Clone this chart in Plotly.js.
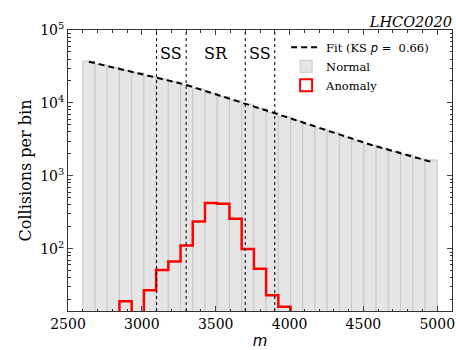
<!DOCTYPE html>
<html><head><meta charset="utf-8">
<script src="https://cdn.plot.ly/plotly-3.0.1.min.js"></script>
<style>html,body{margin:0;padding:0;background:#fff}</style>
</head><body><div id="chart" style="width:456px;height:350px"></div>
<script>
// histogram binning
const binLow = 2600, binHigh = 5000, nBins = 29;
// fit evaluated at bin centres
const fitValues = [36800, 33650, 30800, 28200, 25800, 23600, 21500, 19400, 17600, 15600,
  13800, 12300, 10900, 9640, 8470, 7430, 6530, 5750, 5060, 4450,
  3910, 3440, 3030, 2690, 2410, 2160, 1940, 1740, 1555];
// "Normal" background counts per bin
const normalCounts = [37500, 33400, 30500, 28000, 25900, 23300, 21300, 19500, 17300, 15500,
  13700, 12200, 10800, 9600, 8400, 7350, 6500, 5700, 5000, 4400,
  3900, 3400, 3000, 2650, 2380, 2150, 1950, 1720, 1650];
// "Anomaly" signal counts per bin
const anomalyCounts = [0, 0, 0, 19, 0, 27, 51, 67, 111, 237,
  423, 413, 258, 99, 53, 23, 16, 0, 0, 0,
  0, 0, 0, 0, 0, 0, 0, 0, 0];
const regionEdges = [3100, 3300, 3700, 3900];
const regionLabels = ['SS', 'SR', 'SS'];
const xTickVals = [2500, 3000, 3500, 4000, 4500, 5000];
const yTickVals = [100, 1000, 10000, 100000];
const yTickText = ['10<sup>2</sup>', '10<sup>3</sup>', '10<sup>4</sup>', '10<sup>5</sup>'];
const ksP = '0.66';

const w = (binHigh - binLow) / nBins;
const edges = [], centers = [];
for (let i = 0; i <= nBins; i++) edges.push(binLow + i * w);
for (let i = 0; i < nBins; i++) centers.push(binLow + (i + 0.5) * w);
const stepY = anomalyCounts.map(v => v > 0 ? v : 0.1);
stepY.push(stepY[stepY.length - 1]);

const serif = 'DejaVu Serif, serif';
const traces = [
  {type: 'scatter', mode: 'lines', x: centers, y: fitValues,
   name: 'Fit (KS <i style="font-family:DejaVu Sans">p</i> =  ' + ksP + ')',
   line: {color: '#000', width: 2, dash: '6px,4px'}, legendrank: 1},
  {type: 'bar', x: centers, y: normalCounts, width: w, name: 'Normal', legendrank: 2,
   marker: {color: '#e5e5e5', line: {color: '#c8c8c8', width: 1}}, hoverinfo: 'skip'},
  {type: 'scatter', mode: 'lines', x: edges, y: stepY, showlegend: false,
   line: {color: '#ff0000', width: 2.5, shape: 'hv'}},
  {type: 'bar', x: centers, y: anomalyCounts.map(() => null), name: 'Anomaly', legendrank: 3,
   marker: {color: '#ffffff', line: {color: '#ff0000', width: 2}}}
];

const shapes = regionEdges.map(e => ({type: 'line', xref: 'x', yref: 'paper', x0: e, x1: e, y0: 0, y1: 1,
  line: {color: '#000', width: 1, dash: 'dot'}, layer: 'above'}));
const annotations = regionLabels.map((t, i) => ({xref: 'x', yref: 'paper',
  x: (regionEdges[i] + regionEdges[i + 1]) / 2, y: 0.917, yanchor: 'middle', text: t, showarrow: false,
  font: {family: serif, size: 16, color: '#000'}}));

const layout = {
  width: 456, height: 350,
  margin: {l: 68, r: 4, t: 30, b: 39},
  paper_bgcolor: '#fff', plot_bgcolor: '#fff',
  font: {family: serif, size: 14, color: '#000'},
  bargap: 0, barmode: 'overlay',
  showlegend: true,
  title: {text: '<i>LHCO2020</i>', x: 1, xref: 'paper', xanchor: 'right', y: 1, yref: 'paper', yanchor: 'bottom',
    pad: {b: 3}, font: {family: serif, size: 14.5, color: '#000'}},
  legend: {x: 0.568, y: 0.99, xanchor: 'left', yanchor: 'top', bgcolor: 'rgba(0,0,0,0)',
    font: {family: serif, size: 11.5}, tracegroupgap: 0},
  xaxis: {range: [2500, 5100], tickvals: xTickVals, ticks: 'inside', ticklen: 5, tickwidth: 1,
    mirror: 'allticks', showline: true, linecolor: '#333', linewidth: 1, showgrid: false, zeroline: false,
    tickfont: {family: serif, size: 14},
    minor: {dtick: 100, ticks: 'inside', ticklen: 2.5, tickcolor: '#333', showgrid: false},
    title: {text: '<i>m</i>', font: {family: 'DejaVu Sans, sans-serif', size: 15}, standoff: 4}},
  yaxis: {type: 'log', range: [Math.log10(14), 5], tickvals: yTickVals, ticktext: yTickText,
    ticks: 'inside', ticklen: 5, tickwidth: 1, mirror: 'allticks', showline: true, linecolor: '#333',
    linewidth: 1, showgrid: false, zeroline: false, tickfont: {family: serif, size: 14},
    minor: {dtick: 'D1', ticks: 'inside', ticklen: 2.5, tickcolor: '#333', showgrid: false},
    title: {text: 'Collisions per bin', font: {family: serif, size: 16}, standoff: 4}},
  shapes: shapes, annotations: annotations
};
Plotly.newPlot('chart', traces, layout, {displayModeBar: false, staticPlot: true});
</script></body></html>
